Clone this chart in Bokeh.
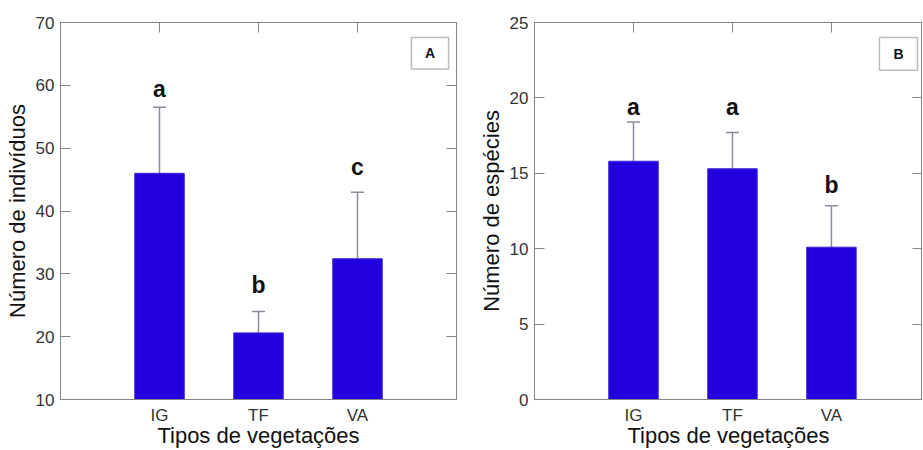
from bokeh.plotting import figure
from bokeh.models import (Range1d, LinearAxis, FixedTicker, ColumnDataSource,
                          Whisker, TeeHead, Label, BoxAnnotation)
from bokeh.layouts import row
from bokeh.core.properties import value
from bokeh.embed import file_html
from bokeh.resources import INLINE

# ---- data ----
categories = ["IG", "TF", "VA"]
cat_pos = [1, 2, 3]

ind_mean = [46.0, 20.6, 32.4]
ind_err = [10.5, 3.4, 10.6]
ind_letters = ["a", "b", "c"]
ind_letter_y = [59.4, 28.2, 47.0]
ind_ticks = [10, 20, 30, 40, 50, 60, 70]

sp_mean = [15.8, 15.3, 10.1]
sp_err = [2.6, 2.4, 2.75]
sp_letters = ["a", "a", "b"]
sp_letter_y = [19.4, 19.4, 14.2]
sp_ticks = [0, 5, 10, 15, 20, 25]

FONT = "Liberation Sans"
BAR = "#2200dd"
FRAME = "#858585"
ERR = "#8c8c9c"


def make_panel(mean, err, letters, letter_y, ticks, ylabel, y0, y1, xend,
               tag, box, width, border_left, border_right):
    p = figure(width=width, height=450, output_backend="svg", toolbar_location=None,
               x_range=Range1d(0, xend), y_range=Range1d(y0, y1),
               min_border_left=border_left, min_border_right=border_right,
               min_border_top=22, min_border_bottom=0)
    p.grid.visible = False
    p.outline_line_color = FRAME
    p.background_fill_color = "white"
    p.border_fill_color = "white"

    upper = [m + e for m, e in zip(mean, err)]
    src = ColumnDataSource(dict(x=cat_pos, top=mean, upper=upper,
                                letter=letters, ly=letter_y))
    p.vbar(x="x", top="top", bottom=y0, width=0.5, source=src,
           fill_color=BAR, line_color="#3a26d8", line_width=1)

    w = Whisker(base="x", lower="top", upper="upper", source=src, dimension="height",
                line_color=ERR, line_width=1.5, lower_head=None,
                upper_head=TeeHead(size=13, line_color=ERR, line_width=1.5))
    p.add_layout(w)

    p.text(x="x", y="ly", text="letter", source=src, text_font=value(FONT),
           text_font_style="bold", text_font_size="23px", text_align="center",
           text_baseline="alphabetic", text_color="#111111")

    # tag box
    bl, br, bb, bt = box
    p.add_layout(BoxAnnotation(left=bl, right=br, bottom=bb, top=bt,
                               fill_color="white", fill_alpha=1.0,
                               line_color="#222222", line_width=1.5))
    p.add_layout(Label(x=(bl + br) / 2, y=(bb + bt) / 2, text=tag,
                       text_font=FONT, text_font_style="bold", text_font_size="14px",
                       text_align="center", text_baseline="middle", text_color="#111111"))

    # bottom axis
    xa = p.xaxis[0]
    xa.ticker = FixedTicker(ticks=cat_pos)
    xa.major_label_overrides = {c: n for c, n in zip(cat_pos, categories)}
    xa.major_tick_in = 0
    xa.major_tick_out = 0
    xa.minor_tick_line_color = None
    xa.axis_line_color = FRAME
    xa.major_label_text_font = FONT
    xa.major_label_text_font_size = "17px"
    xa.major_label_text_color = "#333333"
    xa.major_label_standoff = 6
    xa.axis_label = "Tipos de vegetações"
    xa.axis_label_text_font = FONT
    xa.axis_label_text_font_style = "normal"
    xa.axis_label_text_font_size = "22px"
    xa.axis_label_text_color = "#111111"
    xa.axis_label_standoff = -5

    # left axis
    ya = p.yaxis[0]
    ya.ticker = FixedTicker(ticks=ticks)
    ya.major_tick_in = 10
    ya.major_tick_out = 0
    ya.major_tick_line_color = FRAME
    ya.minor_tick_line_color = None
    ya.axis_line_color = FRAME
    ya.major_label_text_font = FONT
    ya.major_label_text_font_size = "17px"
    ya.major_label_text_color = "#333333"
    ya.major_label_standoff = 6
    ya.axis_label = ylabel
    ya.axis_label_text_font = FONT
    ya.axis_label_text_font_style = "normal"
    ya.axis_label_text_font_size = "22px"
    ya.axis_label_text_color = "#111111"
    ya.axis_label_standoff = 3

    # mirrored axes (ticks only, no labels)
    top = LinearAxis(ticker=FixedTicker(ticks=cat_pos), major_tick_in=10, major_tick_out=0,
                     minor_tick_line_color=None, major_tick_line_color=FRAME,
                     axis_line_color=FRAME, major_label_text_color=None,
                     major_label_text_font_size="1px", major_label_standoff=0)
    right = LinearAxis(ticker=FixedTicker(ticks=ticks), major_tick_in=10, major_tick_out=0,
                       minor_tick_line_color=None, major_tick_line_color=FRAME,
                       axis_line_color=FRAME, major_label_text_color=None,
                       major_label_text_font_size="1px", major_label_standoff=0)
    p.add_layout(top, "above")
    p.add_layout(right, "right")
    return p


pA = make_panel(ind_mean, ind_err, ind_letters, ind_letter_y, ind_ticks,
                "Número de indivíduos", 10, 70, 4.0, "A",
                (3.545, 3.92, 62.6, 67.6), 464, 60, 8)
pB = make_panel(sp_mean, sp_err, sp_letters, sp_letter_y, sp_ticks,
                "Número de espécies", 0, 25, 3.92, "B",
                (3.485, 3.869, 21.83, 24.01), 458, 70, 0)

layout = row(pA, pB)
open("out.html", "w").write(file_html(layout, INLINE))
